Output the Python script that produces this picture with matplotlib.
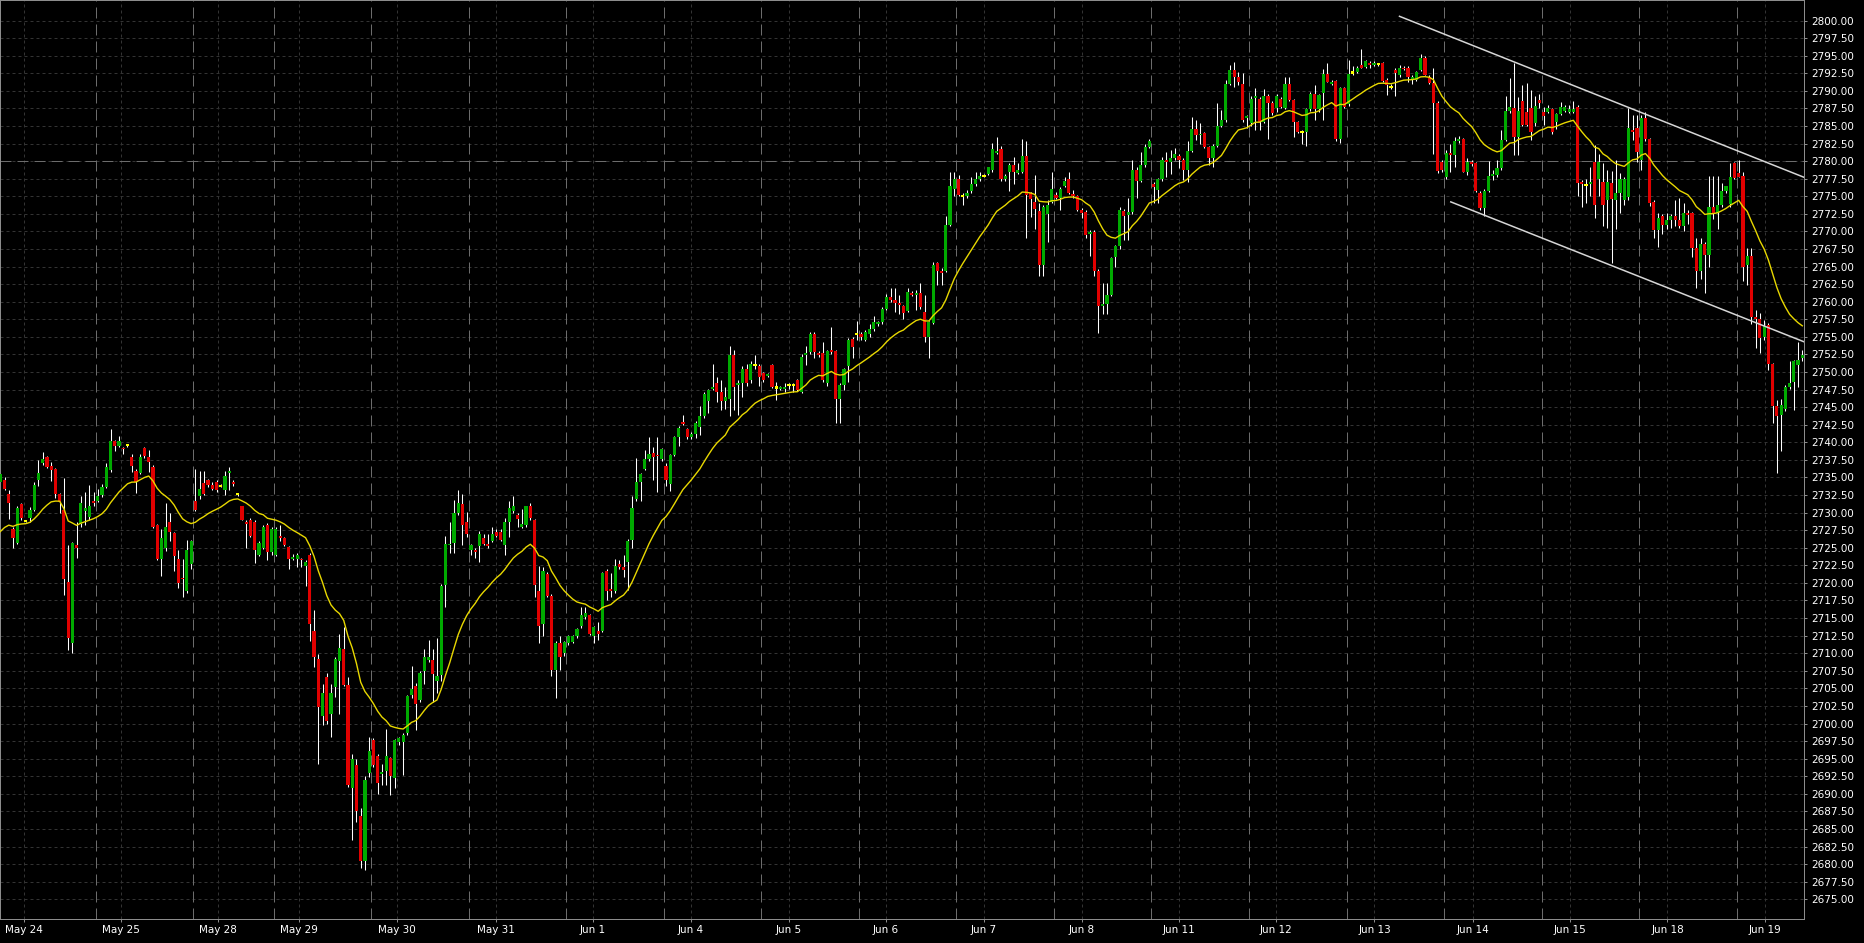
import numpy as np
import matplotlib
matplotlib.use("Agg")
import matplotlib.pyplot as plt

# hourly candles, May 24 .. Jun 19
opens = [
    2734.4, 2734.6, 2732.6, 2727.7, 2725.7, 2731.2, 2728.85, 2729.3, 2730.4, 2734.6,
    2737.0, 2737.9, 2736.6, 2736.2, 2732.6, 2730.4, 2720.1, 2711.5, 2725.4, 2728.4,
    2730.3, 2729.4, 2731.6, 2731.7, 2732.5, 2733.7, 2736.0, 2740.2, 2739.5, 2739.2,
    2739.6, 2737.9, 2735.9, 2735.7, 2739.2, 2737.9, 2736.5, 2728.2, 2723.4, 2725.0,
    2728.7, 2727.1, 2723.4, 2720.7, 2718.9, 2722.7, 2731.7, 2732.3, 2734.2, 2734.6,
    2733.9, 2734.4, 2733.8, 2733.2, 2735.7, 2734.4, 2732.6, 2730.9, 2728.7, 2729.0,
    2728.7, 2724.0, 2725.0, 2728.2, 2724.4, 2724.0, 2726.7, 2726.4, 2725.1, 2723.4,
    2723.4, 2723.3, 2722.4, 2724.0, 2713.2, 2709.2, 2701.0, 2706.6, 2701.4, 2705.2,
    2708.9, 2710.6, 2705.5, 2690.8, 2694.1, 2686.8, 2680.5, 2693.0, 2697.6, 2695.4,
    2692.8, 2693.2, 2695.1, 2692.2, 2697.3, 2697.3, 2698.6, 2704.0, 2705.4, 2703.3,
    2707.5, 2709.1, 2709.1, 2706.0, 2706.9, 2719.7, 2725.4, 2725.7, 2729.9, 2731.2,
    2728.7, 2724.7, 2724.7, 2725.2, 2726.4, 2725.6, 2726.0, 2727.3, 2727.3, 2725.4,
    2728.7, 2730.3, 2729.7, 2728.0, 2728.2, 2730.9, 2728.9, 2718.8, 2714.2, 2721.3,
    2718.2, 2707.6, 2711.5, 2710.1, 2711.4, 2711.6, 2712.4, 2713.8, 2715.2, 2715.4,
    2712.4, 2713.1, 2713.2, 2721.7, 2719.1, 2718.8, 2722.7, 2722.2, 2723.0, 2726.1,
    2732.0, 2734.4, 2736.2, 2737.6, 2738.5, 2738.2, 2737.6, 2736.6, 2734.0, 2738.2,
    2740.7, 2742.9, 2741.9, 2740.7, 2741.2, 2742.2, 2743.7, 2745.9, 2747.6, 2748.5,
    2747.2, 2745.9, 2746.2, 2752.4, 2748.2, 2748.4, 2750.4, 2748.8, 2751.0, 2750.9,
    2749.8, 2749.5, 2751.0, 2747.8, 2747.6, 2747.6, 2748.1, 2748.1, 2748.8, 2747.2,
    2752.4, 2752.8, 2755.4, 2752.7, 2752.7, 2748.5, 2753.1, 2753.0, 2746.2, 2748.2,
    2750.8, 2754.7, 2755.4, 2755.4, 2754.6, 2755.4, 2756.1, 2756.9, 2757.1, 2759.0,
    2760.6, 2760.2, 2759.8, 2759.4, 2758.7, 2761.3, 2761.0, 2761.3, 2758.6, 2755.0,
    2757.0, 2765.5, 2764.4, 2764.4, 2770.9, 2776.1, 2777.4, 2775.1, 2775.1, 2775.7,
    2776.7, 2777.4, 2777.9, 2778.2, 2778.8, 2781.2, 2781.7, 2777.4, 2778.5, 2779.4,
    2778.3, 2778.5, 2780.7, 2775.4, 2774.2, 2772.9, 2765.2, 2772.5, 2774.2, 2775.2,
    2774.8, 2776.5, 2777.4, 2775.3, 2775.0, 2773.1, 2772.8, 2769.6, 2769.9, 2764.3,
    2759.4, 2759.7, 2761.0, 2766.4, 2767.9, 2772.9, 2772.3, 2772.7, 2778.8, 2777.2,
    2779.4, 2782.0, 2776.7, 2775.9, 2777.4, 2780.2, 2779.9, 2780.4, 2780.7, 2780.2,
    2778.7, 2781.5, 2784.5, 2783.7, 2784.0, 2782.0, 2780.5, 2782.2, 2785.0, 2785.8,
    2791.0, 2793.0, 2792.0, 2791.0, 2786.1, 2785.4, 2789.0, 2788.9, 2785.6, 2789.3,
    2788.3, 2787.5, 2788.9, 2787.6, 2791.0, 2788.7, 2785.5, 2784.1, 2784.2, 2787.4,
    2789.6, 2787.4, 2789.7, 2792.4, 2791.0, 2791.4, 2783.1, 2790.4, 2788.1, 2792.6,
    2792.7, 2793.7, 2793.4, 2793.9, 2793.7, 2793.8, 2793.9, 2791.6, 2790.6, 2792.9,
    2792.3, 2793.3, 2793.3, 2791.6, 2791.6, 2793.0, 2794.7, 2792.0, 2791.1, 2788.3,
    2779.9, 2777.8, 2781.1, 2780.8, 2782.8, 2783.1, 2778.5, 2779.9, 2779.7, 2775.5,
    2773.3, 2775.8, 2777.9, 2778.0, 2779.0, 2783.0, 2787.1, 2787.5, 2783.5, 2788.5,
    2787.0, 2787.5, 2785.4, 2788.7, 2787.0, 2787.0, 2787.4, 2785.5, 2786.7, 2787.2,
    2787.0, 2787.0, 2787.7, 2777.1, 2776.6, 2776.7, 2779.9, 2777.5, 2777.1, 2774.5,
    2776.9, 2774.5, 2775.5, 2774.5, 2774.9, 2784.4, 2784.7, 2780.2, 2786.1, 2783.1,
    2774.2, 2770.2, 2772.2, 2770.9, 2771.6, 2772.2, 2771.6, 2770.7, 2772.6, 2772.6,
    2767.7, 2764.3, 2768.2, 2766.7, 2773.5, 2772.6, 2773.8, 2775.7, 2773.9, 2779.7,
    2778.3, 2777.9, 2765.2, 2766.5, 2757.8, 2757.5, 2755.0, 2756.7, 2751.1, 2745.2,
    2743.9, 2744.8, 2747.9, 2748.6, 2751.0, 2752.0,
]
highs = [
    2735.8, 2735.0, 2733.2, 2728.0, 2730.9, 2731.4, 2729.0, 2730.8, 2734.4, 2737.5,
    2738.6, 2738.0, 2737.2, 2736.4, 2732.8, 2734.9, 2725.4, 2725.8, 2728.7, 2732.4,
    2733.0, 2733.9, 2733.0, 2733.3, 2734.0, 2737.0, 2741.9, 2740.4, 2740.9, 2739.4,
    2739.8, 2738.4, 2736.2, 2738.4, 2739.4, 2738.9, 2736.8, 2728.4, 2727.7, 2731.4,
    2729.9, 2727.3, 2724.7, 2723.4, 2726.1, 2726.1, 2736.2, 2735.9, 2735.9, 2734.8,
    2734.4, 2734.6, 2734.0, 2735.9, 2736.5, 2734.6, 2732.7, 2731.0, 2728.9, 2729.2,
    2728.9, 2725.9, 2728.2, 2728.5, 2727.9, 2727.9, 2728.2, 2726.6, 2725.3, 2724.1,
    2724.2, 2723.5, 2723.2, 2724.2, 2716.1, 2709.9, 2705.6, 2707.2, 2705.6, 2709.5,
    2712.7, 2713.7, 2706.6, 2695.7, 2695.0, 2688.0, 2692.5, 2698.1, 2698.0, 2695.6,
    2694.3, 2699.2, 2695.3, 2697.8, 2698.1, 2698.6, 2704.1, 2708.2, 2705.8, 2707.4,
    2710.6, 2711.9, 2710.6, 2712.2, 2719.8, 2726.7, 2728.6, 2731.8, 2733.2, 2732.6,
    2730.1, 2725.6, 2725.0, 2727.4, 2727.0, 2727.0, 2727.9, 2727.6, 2727.6, 2729.2,
    2731.6, 2732.4, 2730.0, 2730.5, 2731.0, 2731.4, 2729.1, 2722.4, 2722.3, 2721.5,
    2718.4, 2711.7, 2712.5, 2711.8, 2712.6, 2712.6, 2713.6, 2716.6, 2716.6, 2715.6,
    2713.9, 2714.5, 2721.6, 2722.0, 2721.4, 2723.4, 2723.3, 2724.0, 2726.2, 2732.3,
    2737.7, 2735.7, 2738.9, 2740.8, 2739.4, 2740.8, 2739.2, 2737.0, 2738.4, 2740.9,
    2742.3, 2743.9, 2742.1, 2741.4, 2743.0, 2745.1, 2747.2, 2747.6, 2751.1, 2749.3,
    2748.9, 2747.9, 2753.7, 2753.2, 2748.9, 2750.8, 2751.2, 2751.6, 2752.4, 2751.2,
    2750.0, 2749.9, 2751.2, 2748.6, 2748.0, 2748.5, 2748.4, 2748.4, 2749.0, 2752.6,
    2753.7, 2755.7, 2755.7, 2753.0, 2754.3, 2753.2, 2756.4, 2753.2, 2748.4, 2750.6,
    2754.8, 2755.0, 2757.2, 2755.7, 2756.0, 2756.9, 2757.9, 2757.3, 2759.2, 2761.1,
    2761.9, 2761.9, 2760.9, 2759.6, 2761.9, 2761.5, 2761.6, 2762.6, 2760.9, 2757.3,
    2765.7, 2765.7, 2764.8, 2772.2, 2778.5, 2778.5, 2778.0, 2775.4, 2775.9, 2777.8,
    2778.4, 2778.5, 2778.1, 2779.2, 2782.6, 2783.5, 2782.1, 2778.2, 2779.8, 2780.6,
    2779.7, 2783.1, 2782.9, 2775.6, 2778.0, 2774.0, 2773.7, 2774.5, 2778.5, 2775.6,
    2776.3, 2777.8, 2778.5, 2775.9, 2775.2, 2773.3, 2773.0, 2770.2, 2770.2, 2764.6,
    2762.6, 2762.6, 2766.4, 2768.1, 2773.5, 2773.2, 2774.7, 2780.2, 2779.1, 2781.3,
    2782.5, 2783.1, 2777.0, 2777.6, 2780.6, 2781.3, 2781.6, 2781.8, 2781.0, 2780.4,
    2782.8, 2786.3, 2785.8, 2785.4, 2784.2, 2782.2, 2782.4, 2788.3, 2787.3, 2791.6,
    2793.7, 2794.1, 2792.7, 2792.6, 2786.6, 2789.2, 2790.4, 2789.1, 2790.2, 2789.5,
    2788.5, 2789.6, 2789.1, 2792.0, 2792.0, 2788.9, 2785.7, 2784.4, 2787.6, 2789.9,
    2790.8, 2789.6, 2793.1, 2793.9, 2791.6, 2791.6, 2790.5, 2790.6, 2794.4, 2793.5,
    2793.6, 2795.9, 2794.4, 2794.3, 2794.3, 2794.0, 2794.1, 2791.8, 2790.9, 2793.3,
    2793.7, 2793.6, 2793.6, 2792.2, 2792.8, 2795.3, 2795.0, 2792.2, 2793.3, 2788.5,
    2780.2, 2781.6, 2782.5, 2783.5, 2783.6, 2783.3, 2780.4, 2780.1, 2779.9, 2775.7,
    2776.0, 2780.0, 2778.7, 2780.2, 2784.4, 2789.2, 2791.8, 2794.0, 2789.1, 2790.8,
    2791.1, 2790.1, 2789.2, 2789.5, 2787.7, 2788.0, 2787.6, 2786.8, 2788.4, 2788.0,
    2788.0, 2788.5, 2788.0, 2777.3, 2777.5, 2779.2, 2782.3, 2781.0, 2779.8, 2778.7,
    2778.6, 2780.2, 2778.3, 2777.7, 2787.5, 2786.6, 2786.6, 2786.6, 2787.0, 2783.3,
    2774.4, 2772.6, 2772.5, 2772.6, 2772.5, 2774.5, 2774.7, 2774.0, 2773.0, 2772.8,
    2769.0, 2769.0, 2768.5, 2777.9, 2777.9, 2777.9, 2776.9, 2776.5, 2779.8, 2779.9,
    2780.2, 2778.5, 2767.6, 2767.6, 2758.8, 2758.4, 2757.4, 2757.0, 2751.3, 2746.0,
    2746.1, 2748.2, 2751.5, 2751.7, 2754.3, 2753.1,
]
lows = [
    2734.0, 2733.2, 2729.1, 2725.0, 2725.5, 2729.0, 2728.7, 2728.6, 2730.2, 2733.8,
    2736.8, 2736.4, 2734.5, 2732.1, 2729.9, 2718.3, 2710.4, 2710.1, 2723.6, 2728.0,
    2728.2, 2729.0, 2731.0, 2731.5, 2732.2, 2733.5, 2735.8, 2738.8, 2739.3, 2738.4,
    2739.4, 2735.8, 2732.8, 2735.5, 2737.8, 2735.8, 2727.8, 2723.2, 2721.0, 2724.5,
    2726.0, 2721.7, 2719.3, 2718.0, 2718.6, 2722.0, 2730.2, 2732.0, 2732.5, 2733.7,
    2733.2, 2733.0, 2733.6, 2732.5, 2733.2, 2733.8, 2732.4, 2728.9, 2725.0, 2726.5,
    2722.8, 2723.8, 2724.8, 2723.3, 2724.0, 2723.8, 2726.0, 2725.2, 2722.0, 2723.2,
    2722.3, 2722.3, 2719.6, 2711.7, 2708.1, 2694.3, 2699.8, 2700.0, 2698.1, 2703.8,
    2701.3, 2705.3, 2691.0, 2683.4, 2686.0, 2679.5, 2679.2, 2692.4, 2693.8, 2690.0,
    2691.3, 2691.3, 2689.8, 2690.8, 2697.0, 2692.7, 2698.4, 2703.6, 2699.1, 2703.0,
    2705.6, 2708.8, 2703.1, 2704.3, 2706.0, 2716.6, 2724.3, 2724.3, 2729.6, 2725.4,
    2726.5, 2724.0, 2723.5, 2723.0, 2725.4, 2724.9, 2725.8, 2726.5, 2725.9, 2724.0,
    2726.6, 2730.0, 2728.0, 2727.8, 2728.0, 2729.0, 2718.0, 2711.4, 2712.4, 2718.0,
    2706.8, 2703.6, 2707.6, 2709.6, 2711.2, 2711.4, 2712.1, 2713.6, 2714.8, 2712.6,
    2711.5, 2711.9, 2713.0, 2717.6, 2718.0, 2718.5, 2722.0, 2720.9, 2719.0, 2724.9,
    2731.6, 2731.6, 2736.0, 2737.4, 2734.6, 2732.9, 2737.4, 2733.8, 2733.1, 2738.0,
    2739.5, 2742.4, 2740.5, 2740.5, 2740.6, 2741.0, 2743.5, 2744.1, 2747.4, 2745.8,
    2744.6, 2744.7, 2743.7, 2744.6, 2743.9, 2746.4, 2748.0, 2748.4, 2750.4, 2748.0,
    2748.6, 2749.3, 2747.7, 2746.0, 2747.4, 2747.1, 2747.6, 2747.1, 2747.3, 2747.0,
    2751.0, 2752.5, 2752.0, 2752.2, 2748.6, 2748.0, 2752.6, 2742.8, 2742.8, 2747.5,
    2748.6, 2752.0, 2754.6, 2754.6, 2754.4, 2755.0, 2755.9, 2756.6, 2756.9, 2758.8,
    2760.0, 2758.6, 2758.3, 2757.6, 2758.5, 2760.8, 2758.8, 2759.0, 2754.3, 2752.0,
    2756.8, 2762.4, 2762.4, 2764.2, 2770.7, 2775.0, 2775.0, 2773.8, 2774.8, 2775.5,
    2776.5, 2777.2, 2777.7, 2778.0, 2778.4, 2781.0, 2777.2, 2777.2, 2775.8, 2776.8,
    2778.1, 2778.3, 2769.1, 2772.1, 2770.4, 2763.6, 2763.6, 2768.5, 2774.0, 2774.6,
    2773.1, 2776.3, 2775.3, 2774.8, 2772.9, 2771.9, 2769.0, 2766.5, 2763.7, 2755.6,
    2758.3, 2758.3, 2760.8, 2765.0, 2767.5, 2768.8, 2768.8, 2772.5, 2774.8, 2777.0,
    2779.2, 2781.8, 2774.0, 2774.1, 2777.2, 2777.8, 2778.2, 2780.2, 2779.0, 2777.3,
    2777.1, 2781.3, 2783.0, 2782.4, 2781.8, 2779.5, 2779.1, 2782.0, 2784.8, 2785.6,
    2790.8, 2790.5, 2790.8, 2785.5, 2784.7, 2785.0, 2784.4, 2784.4, 2785.4, 2783.2,
    2786.6, 2787.0, 2787.5, 2787.4, 2788.5, 2783.4, 2784.0, 2782.5, 2782.1, 2787.2,
    2785.8, 2787.0, 2785.9, 2791.2, 2790.8, 2782.8, 2782.6, 2787.6, 2787.9, 2792.2,
    2792.5, 2793.2, 2793.2, 2793.3, 2793.5, 2793.5, 2791.2, 2789.4, 2790.2, 2789.2,
    2792.0, 2792.9, 2791.2, 2791.0, 2791.4, 2792.8, 2792.2, 2791.0, 2781.0, 2778.3,
    2778.5, 2777.5, 2778.5, 2779.2, 2782.6, 2778.4, 2778.0, 2779.3, 2775.6, 2773.0,
    2772.2, 2775.6, 2777.3, 2777.8, 2778.8, 2782.8, 2786.9, 2780.9, 2780.9, 2785.0,
    2785.0, 2783.0, 2785.0, 2787.5, 2785.2, 2786.8, 2783.9, 2784.5, 2786.5, 2787.0,
    2786.8, 2786.8, 2775.0, 2773.5, 2774.0, 2775.0, 2771.9, 2775.0, 2770.7, 2770.5,
    2765.5, 2770.4, 2772.6, 2773.8, 2774.5, 2783.0, 2779.9, 2778.7, 2782.8, 2773.6,
    2769.0, 2767.8, 2769.7, 2770.4, 2770.5, 2770.7, 2770.5, 2770.0, 2771.0, 2766.4,
    2762.0, 2763.3, 2761.2, 2765.0, 2771.8, 2770.4, 2773.5, 2775.4, 2773.5, 2777.4,
    2777.8, 2762.9, 2762.4, 2756.9, 2753.4, 2752.7, 2754.6, 2750.3, 2742.7, 2735.6,
    2738.8, 2744.4, 2747.6, 2744.6, 2747.9, 2751.5,
]
closes = [
    2735.5, 2733.4, 2731.4, 2726.4, 2730.6, 2729.3, 2728.85, 2730.4, 2733.9, 2735.6,
    2737.6, 2736.5, 2736.0, 2732.7, 2731.5, 2720.5, 2712.2, 2725.7, 2725.0, 2731.4,
    2730.7, 2730.9, 2731.3, 2732.4, 2733.6, 2736.5, 2740.2, 2739.5, 2740.2, 2739.0,
    2739.6, 2736.6, 2734.4, 2737.9, 2738.0, 2737.2, 2728.0, 2723.4, 2726.4, 2728.0,
    2727.2, 2723.8, 2720.0, 2720.5, 2724.7, 2726.0, 2730.4, 2733.4, 2732.7, 2733.9,
    2733.4, 2733.2, 2733.8, 2735.2, 2735.9, 2734.0, 2732.6, 2729.0, 2728.4, 2726.7,
    2724.7, 2725.7, 2728.0, 2724.4, 2727.7, 2727.7, 2726.4, 2725.4, 2723.4, 2723.7,
    2724.0, 2723.2, 2723.0, 2714.2, 2709.5, 2702.3, 2704.3, 2700.4, 2704.3, 2709.2,
    2710.8, 2705.5, 2691.2, 2694.9, 2687.5, 2680.5, 2692.0, 2696.1, 2694.1, 2691.5,
    2693.1, 2695.4, 2692.5, 2697.6, 2697.9, 2698.4, 2703.9, 2704.9, 2702.8, 2707.2,
    2709.4, 2709.4, 2707.0, 2706.7, 2719.6, 2725.6, 2725.6, 2730.0, 2731.3, 2728.2,
    2727.0, 2725.4, 2724.4, 2727.0, 2725.6, 2725.2, 2727.0, 2726.7, 2726.1, 2728.6,
    2730.7, 2730.9, 2729.1, 2728.4, 2730.9, 2729.3, 2719.7, 2713.9, 2721.7, 2718.2,
    2707.6, 2711.5, 2709.5, 2711.6, 2712.4, 2712.4, 2713.4, 2715.4, 2715.7, 2712.8,
    2713.7, 2712.7, 2721.4, 2718.9, 2718.9, 2722.4, 2722.2, 2721.9, 2726.0, 2730.6,
    2734.4, 2735.5, 2737.6, 2738.4, 2737.9, 2738.0, 2739.0, 2734.7, 2738.2, 2740.7,
    2742.1, 2742.6, 2740.7, 2741.2, 2742.8, 2743.7, 2746.9, 2747.4, 2747.8, 2747.2,
    2745.9, 2746.5, 2752.4, 2747.9, 2748.5, 2750.4, 2748.5, 2751.1, 2751.0, 2749.3,
    2748.8, 2749.7, 2747.9, 2747.8, 2747.8, 2747.9, 2748.1, 2748.1, 2747.5, 2752.2,
    2752.7, 2755.4, 2752.8, 2752.4, 2748.8, 2753.0, 2752.8, 2746.2, 2748.2, 2750.4,
    2754.5, 2753.5, 2755.4, 2755.0, 2755.7, 2756.1, 2757.1, 2757.1, 2759.0, 2760.7,
    2760.2, 2759.8, 2759.5, 2758.4, 2761.4, 2761.0, 2761.2, 2759.3, 2755.0, 2757.1,
    2765.2, 2764.3, 2764.1, 2770.9, 2776.5, 2777.4, 2775.2, 2775.1, 2775.5, 2776.7,
    2777.4, 2777.9, 2777.9, 2779.1, 2781.7, 2781.4, 2777.4, 2777.9, 2779.4, 2778.5,
    2778.8, 2780.7, 2775.2, 2774.6, 2773.2, 2765.2, 2773.5, 2773.8, 2776.1, 2774.8,
    2776.1, 2777.2, 2775.5, 2775.0, 2773.1, 2772.6, 2769.5, 2769.9, 2764.3, 2759.4,
    2759.7, 2761.0, 2766.2, 2767.9, 2773.1, 2772.2, 2772.7, 2778.8, 2777.2, 2779.4,
    2782.0, 2782.8, 2776.3, 2777.4, 2780.2, 2779.9, 2780.5, 2781.0, 2780.2, 2778.7,
    2781.5, 2784.5, 2783.7, 2783.9, 2782.0, 2780.5, 2782.2, 2785.0, 2785.8, 2791.0,
    2793.0, 2792.0, 2791.3, 2785.9, 2786.4, 2788.9, 2789.2, 2785.6, 2789.3, 2788.3,
    2786.8, 2789.3, 2787.7, 2791.0, 2788.7, 2785.5, 2784.2, 2784.1, 2787.4, 2789.6,
    2787.4, 2789.4, 2792.4, 2791.3, 2791.3, 2783.2, 2790.4, 2787.7, 2792.4, 2792.6,
    2793.3, 2793.3, 2794.2, 2793.7, 2793.9, 2793.8, 2791.4, 2790.8, 2790.6, 2792.5,
    2793.2, 2793.1, 2792.0, 2791.9, 2792.7, 2794.7, 2792.3, 2791.1, 2788.3, 2778.6,
    2778.7, 2781.1, 2780.8, 2782.8, 2783.1, 2778.5, 2779.9, 2779.6, 2775.8, 2773.3,
    2775.8, 2777.9, 2778.2, 2779.0, 2783.0, 2787.1, 2787.7, 2783.5, 2787.1, 2785.1,
    2785.1, 2784.2, 2787.9, 2788.3, 2786.4, 2787.6, 2784.2, 2786.7, 2787.7, 2787.7,
    2787.4, 2787.4, 2776.9, 2776.7, 2776.6, 2777.1, 2773.8, 2779.9, 2773.8, 2777.1,
    2774.6, 2775.5, 2777.5, 2777.5, 2784.7, 2784.2, 2781.3, 2786.1, 2783.2, 2774.0,
    2770.2, 2771.9, 2770.9, 2771.6, 2772.2, 2771.6, 2770.7, 2772.6, 2772.3, 2767.7,
    2764.3, 2768.2, 2766.7, 2773.5, 2772.6, 2773.8, 2775.7, 2776.4, 2777.8, 2777.6,
    2777.8, 2765.0, 2766.5, 2757.8, 2757.5, 2754.8, 2756.6, 2751.1, 2745.2, 2743.7,
    2745.3, 2747.9, 2748.4, 2751.5, 2751.7, 2752.4,
]

# moving average value at the first visible bar (history is off screen)
ema_start = 2727.3
ema_period = 20

day_labels = ["May 24", "May 25", "May 28", "May 29", "May 30", "May 31", "Jun 1",
              "Jun 4", "Jun 5", "Jun 6", "Jun 7", "Jun 8", "Jun 11", "Jun 12",
              "Jun 13", "Jun 14", "Jun 15", "Jun 18", "Jun 19"]
day_label_pos = [5.5, 28.4, 51.4, 70.5, 93.6, 116.9, 139.8, 162.9, 185.9, 208.9,
                 232.0, 255.0, 278.0, 300.9, 324.1, 347.3, 370.3, 393.2, 416.3]
day_breaks = [22.5, 45.5, 64.5, 87.5, 110.5, 133.5, 156.5, 179.5, 202.5, 225.5,
              248.5, 271.5, 294.5, 317.5, 340.5, 363.5, 386.5, 409.5]
price_ticks = np.arange(2675.0, 2800.01, 2.5)
level_price = 2780.0

# trend channel drawn on the chart: (bar, price) end points
upper_x = [330.0, 425.4]
upper_y = [2800.6, 2777.7]
lower_x = [342.1, 425.4]
lower_y = [2774.2, 2754.3]

o = np.array(opens)
h = np.array(highs)
l = np.array(lows)
c = np.array(closes)
x = np.arange(len(c))

alpha = 2.0 / (ema_period + 1)
ema = [ema_start]
for v in c[1:]:
    ema.append(ema[-1] + alpha * (v - ema[-1]))

plt.rcParams['font.family'] = ['DejaVu Sans']

fig = plt.figure(figsize=(18.64, 9.43), dpi=100, facecolor='black')
ax = fig.add_axes([0.0, 24 / 943, 1804 / 1864, 919 / 943])
ax.set_facecolor('black')

green = '#00aa00'
red = '#e10000'
yellow = '#ffff00'
grid_col = '#333333'
sep_col = '#6c6c6c'

# grid + separators
ax.set_yticks(price_ticks)
ax.set_yticklabels([f"{v:.2f}" for v in price_ticks])
ax.set_xticks(day_label_pos)
ax.set_xticklabels(day_labels)
ax.grid(True, color=grid_col, linestyle=(0, (3, 3)), linewidth=0.72, zorder=0)
ax.set_axisbelow(True)
for s in day_breaks:
    ax.axvline(s, color=sep_col, linewidth=0.72, linestyle=(0, (11, 6)), zorder=1)
ax.axhline(level_price, color=sep_col, linewidth=0.72, linestyle=(0, (11, 6)), zorder=1)

# wicks
top = np.maximum(h, np.maximum(o, c))
bot = np.minimum(l, np.minimum(o, c))
ax.vlines(x, bot, top, color='white', linewidth=0.75, zorder=2)

# bodies
w = 0.74
up = c > o
dn = c < o
fl = c == o
ax.bar(x[up], np.maximum(c[up] - o[up], 0.16), bottom=o[up], width=w,
       color=green, linewidth=0, zorder=3)
ax.bar(x[dn], np.maximum(o[dn] - c[dn], 0.16), bottom=c[dn], width=w,
       color=red, linewidth=0, zorder=3)
ax.bar(x[fl], 0.3, bottom=o[fl] - 0.15, width=w, color=yellow, linewidth=0, zorder=3)

# moving average
ax.plot(x, ema, color='#e8d800', linewidth=1.0, zorder=4)

# channel
ax.plot(upper_x, upper_y, color='#d6d6d6', linewidth=1.1, zorder=5)
ax.plot(lower_x, lower_y, color='#d6d6d6', linewidth=1.1, zorder=5)

ax.set_xlim(-0.07, 425.4)
ax.set_ylim(2672.19, 2802.92)

ax.yaxis.tick_right()
ax.tick_params(axis='both', color='#8c8c8c', labelcolor='white', labelsize=7.5,
               length=2.5, width=0.72, direction='out')
ax.tick_params(axis='y', pad=2.6)
ax.tick_params(axis='x', pad=2.0)
for sp in ax.spines.values():
    sp.set_color('#8c8c8c')
    sp.set_linewidth(0.72)

fig.savefig('out.png', dpi=100, facecolor='black')
